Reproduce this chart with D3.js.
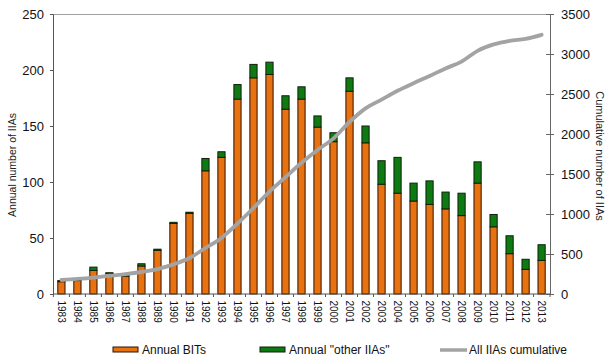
<!DOCTYPE html>
<html>
<head>
<meta charset="utf-8">
<script src="https://cdn.jsdelivr.net/npm/d3@7"></script>
<style>
  body { margin: 0; background: #fff; }
  svg { font-family: "Liberation Sans", Arial, sans-serif; }
</style>
</head>
<body>
<div id="chart"></div>
<script>
// years on the category axis
const years = d3.range(1983, 2014).map(String);
// annual BITs (left axis)
const bits = [11, 12, 21, 18, 16, 25, 39, 63, 72, 110, 122, 174, 193, 196, 165, 174, 149, 136, 181, 135, 98, 90, 83, 80, 76, 70, 99, 60, 36, 22, 30];
// annual "other IIAs" (left axis)
const others = [1, 1, 3, 1, 1, 2, 1, 1, 1, 11, 5, 13, 12, 11, 12, 11, 10, 8, 12, 15, 21, 32, 16, 21, 15, 20, 19, 11, 16, 9, 14];
// all IIAs cumulative (right axis)
const cumulative = [175, 188, 205, 228, 248, 275, 312, 370, 450, 575, 700, 880, 1075, 1280, 1460, 1640, 1800, 1945, 2150, 2320, 2430, 2540, 2635, 2725, 2820, 2905, 3040, 3120, 3165, 3190, 3240];
const leftTicks = [0, 50, 100, 150, 200, 250];
const rightTicks = [0, 500, 1000, 1500, 2000, 2500, 3000, 3500];

const W = 613, H = 361;
const mLeft = 53, mRight = 550, mTop = 14, mBottom = 294;

const svg = d3.select('#chart').append('svg')
    .attr('width', W)
    .attr('height', H);

const x = d3.scaleBand()
    .domain(years)
    .range([mLeft, mRight])
    .paddingInner(0.55)
    .paddingOuter(0.3);

const y = d3.scaleLinear().domain([0, 250]).range([mBottom, mTop]);
const y2 = d3.scaleLinear().domain([0, 3500]).range([mBottom, mTop]);

// top border line
svg.append('line')
    .attr('x1', mLeft).attr('x2', mRight)
    .attr('y1', mTop + 0.5).attr('y2', mTop + 0.5)
    .attr('stroke', '#a0a0a0')
    .attr('stroke-width', 1.2);

// bars: BITs then others stacked on top
const rows = years.map((yr, i) => ({ year: yr, bit: bits[i], other: others[i] }));

svg.append('g').selectAll('rect.bit')
    .data(rows)
    .enter()
    .append('rect')
    .attr('class', 'bit')
    .attr('x', d => x(d.year))
    .attr('width', x.bandwidth())
    .attr('y', d => y(d.bit))
    .attr('height', d => y(0) - y(d.bit))
    .attr('fill', '#E8720F')
    .attr('stroke', '#2a1208')
    .attr('stroke-width', 1);

svg.append('g').selectAll('rect.other')
    .data(rows)
    .enter()
    .append('rect')
    .attr('class', 'other')
    .attr('x', d => x(d.year))
    .attr('width', x.bandwidth())
    .attr('y', d => y(d.bit + d.other))
    .attr('height', d => y(d.bit) - y(d.bit + d.other))
    .attr('fill', '#0E7A12')
    .attr('stroke', '#10200c')
    .attr('stroke-width', 1);

// cumulative line
const line = d3.line()
    .x((d, i) => x(years[i]) + x.bandwidth() / 2)
    .y(d => y2(d))
    .curve(d3.curveMonotoneX);

svg.append('path')
    .datum(cumulative)
    .attr('d', line)
    .attr('fill', 'none')
    .attr('stroke', '#a3a3a3')
    .attr('stroke-width', 3.8)
    .attr('stroke-linecap', 'round');

// left axis
const gLeft = svg.append('g')
    .attr('transform', `translate(${mLeft},0)`)
    .call(d3.axisLeft(y).tickValues(leftTicks).tickSize(3).tickPadding(6));
gLeft.select('.domain').attr('stroke', '#555');
gLeft.selectAll('.tick line').attr('stroke', '#555');
gLeft.selectAll('text').attr('font-size', 13).attr('fill', '#111');

// right axis
const gRight = svg.append('g')
    .attr('transform', `translate(${mRight},0)`)
    .call(d3.axisRight(y2).tickValues(rightTicks).tickFormat(d3.format('d')).tickSize(4).tickPadding(7));
gRight.select('.domain').attr('stroke', '#666');
gRight.selectAll('.tick line').attr('stroke', '#666').attr('x1', -4);
gRight.selectAll('text').attr('font-size', 13).attr('fill', '#111');

// bottom axis: ticks between categories
const gBottom = svg.append('g')
    .attr('transform', `translate(0,${mBottom})`);
gBottom.append('line')
    .attr('x1', mLeft).attr('x2', mRight)
    .attr('stroke', '#555');
const bounds = years.map(yr => x(yr) - x.step() * x.paddingInner() / 2).concat([mRight]);
gBottom.selectAll('line.tk')
    .data(bounds)
    .enter()
    .append('line')
    .attr('class', 'tk')
    .attr('x1', d => d).attr('x2', d => d)
    .attr('y1', 0).attr('y2', 3)
    .attr('stroke', '#555');
gBottom.selectAll('text')
    .data(years)
    .enter()
    .append('text')
    .attr('transform', d => `translate(${x(d) + x.bandwidth() / 2 - 3.5},6.5) rotate(90)`)
    .attr('font-size', 10)
    .attr('fill', '#111')
    .text(d => d);

// axis titles
svg.append('text')
    .attr('transform', 'translate(16,165) rotate(-90)')
    .attr('text-anchor', 'middle')
    .attr('font-size', 10.5)
    .attr('fill', '#222')
    .text('Annual number of IIAs');

svg.append('text')
    .attr('transform', 'translate(596,156) rotate(90)')
    .attr('text-anchor', 'middle')
    .attr('font-size', 11)
    .attr('fill', '#222')
    .text('Cumulative number of IIAs');

// legend
const legend = svg.append('g').attr('font-size', 12).attr('fill', '#111');
legend.append('rect')
    .attr('x', 113).attr('y', 347).attr('width', 25).attr('height', 5)
    .attr('fill', '#E8720F').attr('stroke', '#2a1208');
legend.append('text').attr('x', 142).attr('y', 354).text('Annual BITs');
legend.append('rect')
    .attr('x', 260).attr('y', 347).attr('width', 25).attr('height', 5)
    .attr('fill', '#0E7A12').attr('stroke', '#10200c');
legend.append('text').attr('x', 289).attr('y', 354).text('Annual "other IIAs"');
legend.append('line')
    .attr('x1', 440).attr('x2', 467).attr('y1', 350).attr('y2', 350)
    .attr('stroke', '#a3a3a3').attr('stroke-width', 3.5);
legend.append('text').attr('x', 469).attr('y', 354).text('All IIAs cumulative');
</script>
</body>
</html>
